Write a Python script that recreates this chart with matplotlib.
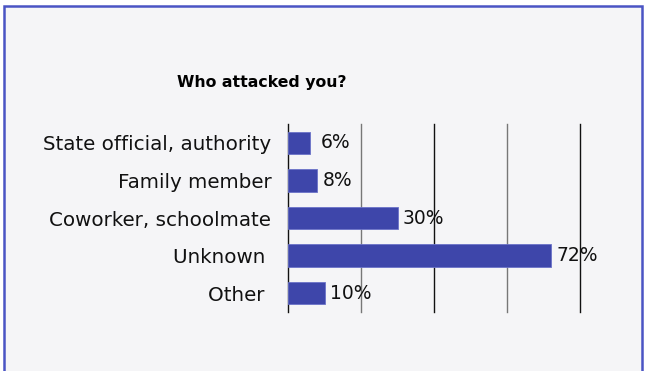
import matplotlib.pyplot as plt
from matplotlib.patches import Rectangle

categories = ['State official, authority', 'Family member', 'Coworker, schoolmate', 'Unknown ', 'Other ']
values = [6, 8, 30, 72, 10]
grid_ticks = [20, 40, 60, 80]

bg = '#f5f5f7'
bar_color = '#3e46aa'

fig = plt.figure(figsize=(6.45, 3.71), dpi=100)
fig.patch.set_facecolor('white')

# panel with blue frame (bottom edge runs off the figure)
W, H = 645, 371
frame = Rectangle((4 / W, -0.05), (641.5 - 4) / W, 1.05 - 6 / H, transform=fig.transFigure,
                  facecolor=bg, edgecolor='#4a54c4', linewidth=1.8, zorder=0)
fig.patches.append(frame)

ax = fig.add_axes([288 / W, 1 - 312 / H, (580 - 288) / W, (312 - 124) / H])
ax.set_zorder(2)
ax.set_facecolor('none')

y = list(range(len(categories)))
ax.barh(y, values, height=0.6, color=bar_color, edgecolor='#6b73c8', linewidth=0.6, zorder=3)
ax.set_ylim(len(categories) - 0.5, -0.5)
ax.set_xlim(0, 80)

for i, v in enumerate(values):
    ax.annotate(f'{v}%', (max(v, 7.5), i), xytext=(4, 0), textcoords='offset points',
                va='center', ha='left', fontsize=13.5, family='DejaVu Sans', color='#111111', zorder=4)

for k, t in enumerate(grid_ticks):
    ax.axvline(t, color='#777777' if k % 2 == 0 else '#111111', linewidth=1.0, zorder=1, clip_on=False)

for s in ['top', 'right', 'bottom']:
    ax.spines[s].set_visible(False)
ax.spines['left'].set_color('#111111')
ax.spines['left'].set_linewidth(1.0)
ax.set_xticks([])
ax.set_yticks(y)
ax.set_yticklabels(categories, fontsize=14.3, family='DejaVu Sans', color='#111111')
ax.tick_params(axis='y', length=0, pad=12)

t = fig.text(262 / W, 1 - 83 / H, 'Who attacked you?', ha='center', va='center',
             fontsize=11.3, fontweight='bold', family='DejaVu Sans')
t.set_zorder(3)

fig.savefig('out.png', dpi=100, facecolor=fig.get_facecolor())
